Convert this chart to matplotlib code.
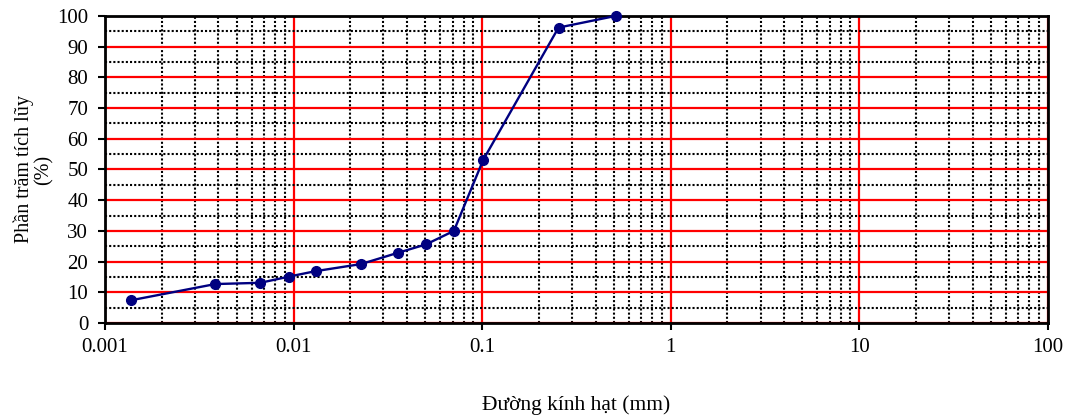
import matplotlib.pyplot as plt
from matplotlib.ticker import LogLocator, FixedLocator, NullFormatter

plt.rcParams['font.family'] = ['Liberation Serif', 'DejaVu Serif']

# grain diameter (mm) and cumulative percentage passing
diameter = [0.00137, 0.00385, 0.00666, 0.00942, 0.0131, 0.0228, 0.0359, 0.0504, 0.0709, 0.1014, 0.2545, 0.512]
percent = [7.4, 12.7, 13.1, 15.1, 16.9, 19.2, 22.9, 25.6, 30.0, 53.1, 96.2, 100.0]

x_ticks = [0.001, 0.01, 0.1, 1, 10, 100]
x_tick_labels = ["0.001", "0.01", "0.1", "1", "10", "100"]
y_ticks = [0, 10, 20, 30, 40, 50, 60, 70, 80, 90, 100]

fig = plt.figure(figsize=(10.7, 4.19), dpi=100)
ax = fig.add_axes([0.0981, 0.229, 0.881, 0.733])

ax.set_xscale("log")
ax.set_xlim(0.001, 100)
ax.set_ylim(0, 100)

ax.set_xticks(x_ticks)
ax.set_xticklabels(x_tick_labels)
ax.xaxis.set_minor_locator(LogLocator(base=10, subs=range(2, 10), numticks=100))
ax.xaxis.set_minor_formatter(NullFormatter())
ax.set_yticks(y_ticks)
ax.yaxis.set_minor_locator(FixedLocator([5, 15, 25, 35, 45, 55, 65, 75, 85, 95]))

# gridlines: red major, black dotted minor
ax.grid(which="major", color="red", linewidth=1.6, linestyle="-")
ax.grid(which="minor", color="black", linewidth=1.5, linestyle=(0, (1.0, 1.0)))
ax.set_axisbelow(True)

ax.tick_params(axis="both", which="major", direction="out", length=5, width=1.5,
               labelsize=15, colors="black")
ax.tick_params(axis="both", which="minor", length=0)
ax.tick_params(axis="x", pad=6)
ax.tick_params(axis="y", pad=7)

for s in ax.spines.values():
    s.set_linewidth(2)
    s.set_color("black")

ax.plot(diameter, percent, color="#000080", linewidth=1.7, marker="o",
        markersize=7, zorder=5, clip_on=False)

ax.set_ylabel("Phần trăm tích lũy\n(%)", fontsize=14.5, linespacing=1.0)
ax.yaxis.set_label_coords(-0.055, 0.5)
ax.set_xlabel("Đường kính hạt (mm)", fontsize=15.5)
ax.xaxis.set_label_coords(0.5, -0.235)

fig.savefig("out.png", dpi=100)
